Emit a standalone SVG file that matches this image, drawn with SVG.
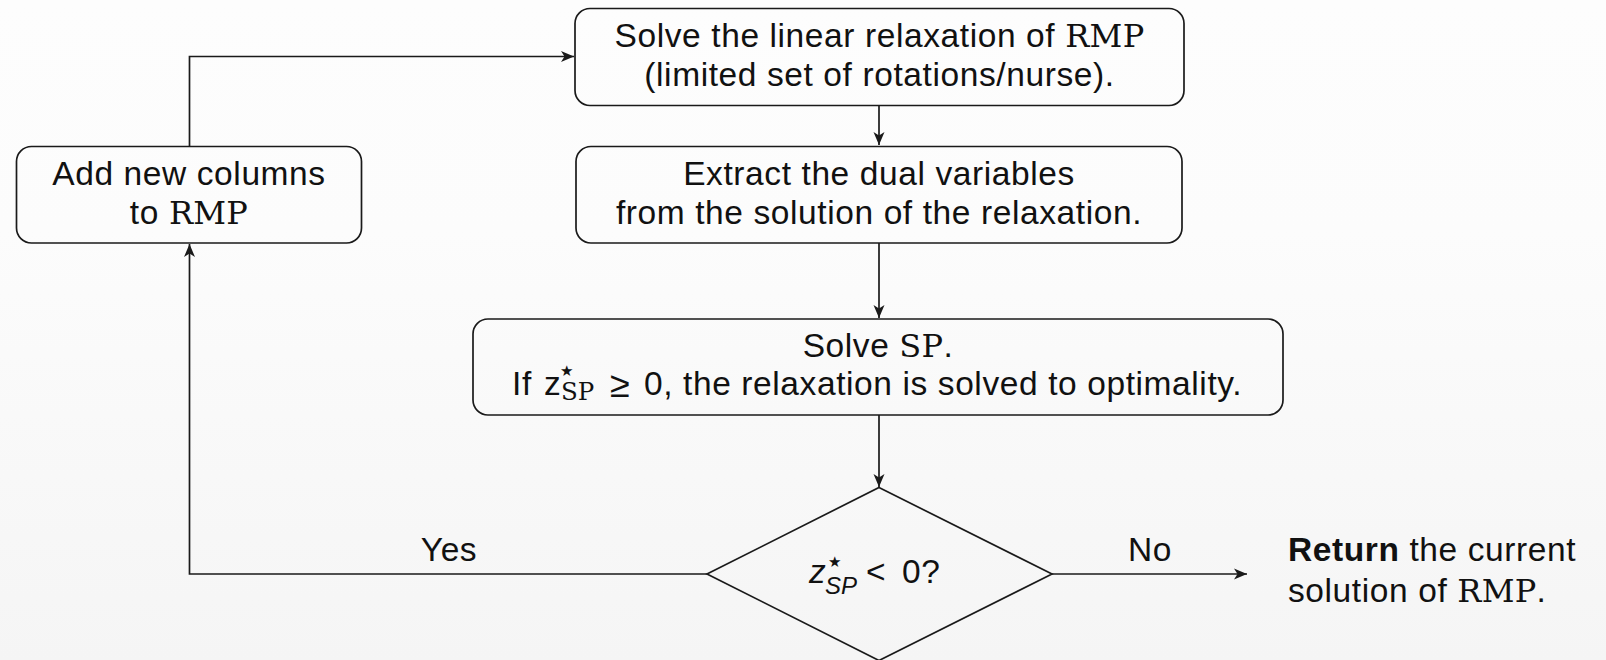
<svg xmlns="http://www.w3.org/2000/svg" width="1606" height="660" viewBox="0 0 1606 660">
  <defs>
    <linearGradient id="bg" x1="0" y1="0" x2="0" y2="1">
      <stop offset="0" stop-color="#fdfdfd"/>
      <stop offset="0.35" stop-color="#fcfcfc"/>
      <stop offset="1" stop-color="#f5f5f5"/>
    </linearGradient>
    <marker id="arrow" markerUnits="userSpaceOnUse" markerWidth="14" markerHeight="12" refX="13" refY="6" orient="auto">
      <path d="M0,0.5 L13,6 L0,11.5 L3.5,6 Z" fill="#1a1a1a"/>
    </marker>
    <style>
      .box { fill: none; stroke: #1a1a1a; stroke-width: 1.7; }
      .edge { fill: none; stroke: #1a1a1a; stroke-width: 1.7; marker-end: url(#arrow); }
      .t { font-family: "Liberation Sans", Arial, sans-serif; font-size: 33.5px; letter-spacing: 0.6px; fill: #111; }
      .c { text-anchor: middle; }
      .rm { font-family: "DejaVu Serif", "Liberation Serif", serif; font-size: 32px; letter-spacing: 0.3px; }
      .sub { font-family: "DejaVu Serif", "Liberation Serif", serif; font-size: 24.5px; letter-spacing: 0; }
      .isub { font-family: "Liberation Sans", Arial, sans-serif; font-style: italic; font-size: 24px; letter-spacing: 0; }
      .star { font-family: "DejaVu Sans", sans-serif; font-size: 15px; letter-spacing: 0; }
      .rel { font-size: 36px; letter-spacing: 0; }
    </style>
  </defs>

  <rect x="0" y="0" width="1606" height="660" fill="url(#bg)"/>

  <!-- connectors -->
  <g id="connectors">
    <path class="edge" d="M879,105.5 V145"/>
    <path class="edge" d="M879,243 V318"/>
    <path class="edge" d="M879,415 V487"/>
    <path class="edge" d="M707,574 H189.5 V244"/>
    <path class="edge" d="M189.5,146 V56.5 H574"/>
    <path class="edge" d="M1052,574 H1247"/>
    <text class="t c" x="449" y="561">Yes</text>
    <text class="t c" x="1150" y="561">No</text>
  </g>

  <!-- solve relaxation of RMP -->
  <g id="solve-rmp">
    <rect class="box" x="575" y="8.5" width="609" height="97" rx="15"/>
    <text class="t c" x="879.5" y="47">Solve the linear relaxation of <tspan class="rm">RMP</tspan></text>
    <text class="t c" x="879.5" y="86">(limited set of rotations/nurse).</text>
  </g>

  <!-- extract duals -->
  <g id="extract-duals">
    <rect class="box" x="576" y="146.5" width="606" height="96.5" rx="15"/>
    <text class="t c" x="879" y="185">Extract the dual variables</text>
    <text class="t c" x="879" y="224">from the solution of the relaxation.</text>
  </g>

  <!-- add columns -->
  <g id="add-columns">
    <rect class="box" x="16.5" y="146.5" width="345" height="96.5" rx="15"/>
    <text class="t c" x="189" y="185">Add new columns</text>
    <text class="t c" x="189" y="224">to <tspan class="rm">RMP</tspan></text>
  </g>

  <!-- pricing subproblem -->
  <g id="solve-sp">
    <rect class="box" x="473" y="319" width="810" height="96" rx="15"/>
    <text class="t c" x="878" y="357">Solve <tspan class="rm">SP</tspan>.</text>
    <text class="t" x="512" y="395">If<tspan x="544">z</tspan><tspan class="star" x="560" y="376">★</tspan><tspan class="sub" x="561" y="400">SP</tspan><tspan class="rel" x="610" y="397">≥</tspan><tspan x="644" y="395">0, the relaxation is solved to optimality.</tspan></text>
  </g>

  <!-- decision -->
  <g id="decision">
    <polygon class="box" points="879,487.5 1052,574 879,660.5 707,574"/>
    <text class="t" x="809" y="583"><tspan font-style="italic">z</tspan><tspan class="star" x="828" y="567">★</tspan><tspan class="isub" x="825" y="594">SP</tspan><tspan x="866" y="583">&lt;</tspan><tspan x="902" y="583">0?</tspan></text>
  </g>

  <!-- result -->
  <g id="result">
    <text class="t" x="1288" y="561"><tspan font-weight="bold">Return</tspan> the current</text>
    <text class="t" x="1288" y="602">solution of <tspan class="rm">RMP</tspan>.</text>
  </g>
</svg>
